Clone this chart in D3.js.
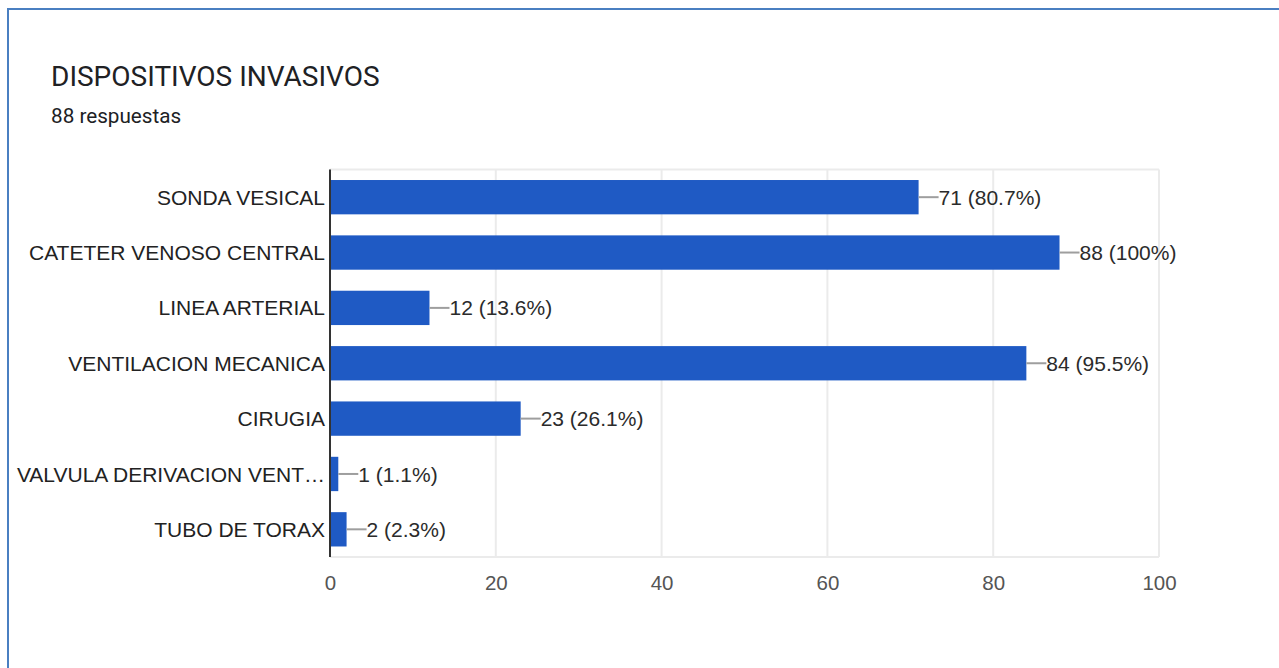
<!DOCTYPE html>
<html>
<head>
<meta charset="utf-8">
<script src="https://cdn.jsdelivr.net/npm/d3@7"></script>
<style>
  html, body { margin: 0; padding: 0; background: #fff; }
  svg { display: block; }
</style>
</head>
<body>
<svg id="chart" width="1279" height="668"></svg>
<script>
// Survey question: invasive devices, 88 responses
const title = "DISPOSITIVOS INVASIVOS";
const subtitle = "88 respuestas";
const categories = [
  "SONDA VESICAL",
  "CATETER VENOSO CENTRAL",
  "LINEA ARTERIAL",
  "VENTILACION MECANICA",
  "CIRUGIA",
  "VALVULA DERIVACION VENT…",
  "TUBO DE TORAX"
];
const counts = [71, 88, 12, 84, 23, 1, 2];
const percents = ["80.7%", "100%", "13.6%", "95.5%", "26.1%", "1.1%", "2.3%"];
const xTicks = [0, 20, 40, 60, 80, 100];

const svg = d3.select("#chart");

// card outline (top and left edges visible)
svg.append("line").attr("x1", 8).attr("x2", 1279).attr("y1", 9).attr("y2", 9)
  .attr("stroke", "#4a7fc1").attr("stroke-width", 2);
svg.append("line").attr("x1", 8).attr("x2", 8).attr("y1", 8).attr("y2", 668)
  .attr("stroke", "#4a7fc1").attr("stroke-width", 2);

svg.append("text").attr("x", 51).attr("y", 86)
  .attr("font-family", "Roboto").attr("font-size", 28).attr("fill", "#202124")
  .text(title);
svg.append("text").attr("x", 51).attr("y", 123)
  .attr("font-family", "Roboto").attr("font-size", 20.7).attr("fill", "#202124")
  .text(subtitle);

const plotLeft = 330, plotRight = 1159, plotTop = 169.5, plotBottom = 557;
const x = d3.scaleLinear().domain([0, 100]).range([plotLeft, plotRight]);
const y = d3.scaleBand().domain(categories).range([plotTop, plotBottom]).paddingInner(0.38).paddingOuter(0.19);

const font = "'Liberation Sans', Arial, sans-serif";

// vertical gridlines
svg.append("g").selectAll("line").data(xTicks).join("line")
  .attr("x1", d => x(d)).attr("x2", d => x(d))
  .attr("y1", plotTop).attr("y2", plotBottom)
  .attr("stroke", "#ebebeb").attr("stroke-width", 2);
// top and bottom frame lines
svg.append("line").attr("x1", plotLeft).attr("x2", plotRight).attr("y1", plotTop).attr("y2", plotTop)
  .attr("stroke", "#ebebeb").attr("stroke-width", 2);
svg.append("line").attr("x1", plotLeft).attr("x2", plotRight).attr("y1", plotBottom).attr("y2", plotBottom)
  .attr("stroke", "#ebebeb").attr("stroke-width", 2);

// bars
svg.append("g").selectAll("rect").data(categories).join("rect")
  .attr("x", x(0))
  .attr("y", d => y(d))
  .attr("width", (d, i) => x(counts[i]) - x(0))
  .attr("height", y.bandwidth())
  .attr("fill", "#1f5ac4");

// leader lines and value labels
const labels = svg.append("g");
categories.forEach((c, i) => {
  const xe = x(counts[i]);
  const cy = y(c) + y.bandwidth() / 2;
  labels.append("line").attr("x1", xe).attr("x2", xe + 20).attr("y1", cy).attr("y2", cy)
    .attr("stroke", "#9e9e9e").attr("stroke-width", 2);
  labels.append("text").attr("x", xe + 20).attr("y", cy).attr("dy", "0.36em")
    .attr("font-family", font).attr("font-size", 21).attr("fill", "#2b2b2b")
    .text(`${counts[i]} (${percents[i]})`);
});

// category axis
const yAxis = svg.append("g").attr("transform", `translate(${plotLeft},0)`)
  .call(d3.axisLeft(y).tickSize(0).tickPadding(5));
yAxis.select(".domain").remove();
yAxis.selectAll("text").attr("font-family", font).attr("font-size", 21).attr("fill", "#222").attr("dy", "0.36em");
svg.append("line").attr("x1", plotLeft).attr("x2", plotLeft).attr("y1", plotTop).attr("y2", plotBottom)
  .attr("stroke", "#333").attr("stroke-width", 2);

// value axis
const xAxis = svg.append("g").attr("transform", `translate(0,${plotBottom})`)
  .call(d3.axisBottom(x).tickValues(xTicks).tickSize(0).tickPadding(18));
xAxis.select(".domain").remove();
xAxis.selectAll("text").attr("font-family", font).attr("font-size", 20.5).attr("fill", "#555");
</script>
</body>
</html>
